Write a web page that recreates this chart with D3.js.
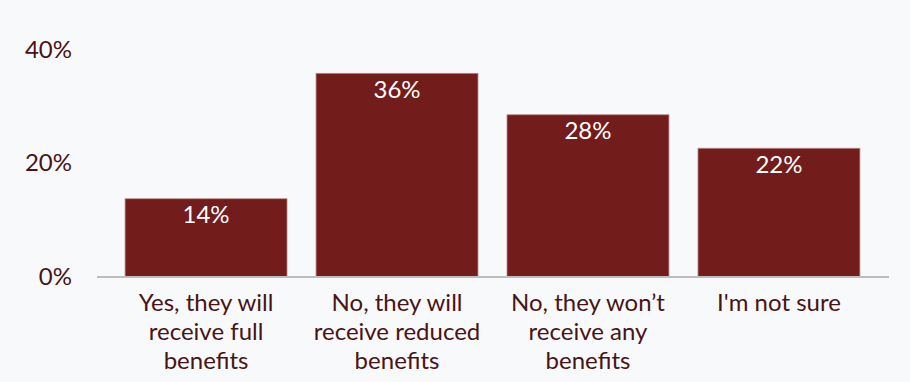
<!DOCTYPE html>
<html>
<head>
<meta charset="utf-8">
<script src="https://cdn.jsdelivr.net/npm/d3@7"></script>
<style>
  html, body { margin: 0; padding: 0; background: #f8f9fb; }
  svg { display: block; font-family: Lato, "Open Sans", sans-serif; }
</style>
</head>
<body>
<svg id="chart" width="910" height="382"></svg>
<script>
const categories = [
  "Yes, they will\nreceive full\nbenefits",
  "No, they will\nreceive reduced\nbenefits",
  "No, they won\u2019t\nreceive any\nbenefits",
  "I'm not sure"
];
const values = [13.7, 35.8, 28.5, 22.6];
const valueLabels = ["14%", "36%", "28%", "22%"];
const yTicks = [0, 20, 40];
const yTickLabels = ["0%", "20%", "40%"];

const svg = d3.select("#chart");
const W = 910, H = 382;
svg.append("rect").attr("width", W).attr("height", H).attr("fill", "#f8f9fb");

const x = d3.scaleBand()
  .domain(categories)
  .range([97, 888])
  .paddingInner(0.152)
  .paddingOuter(0.147);

const y = d3.scaleLinear().domain([0, 40]).range([276.5, 49.5]);

const textColor = "#4a1414";
const barColor = "#731c1c";

// y-axis labels
const yAxis = d3.axisLeft(y).tickValues(yTicks)
  .tickFormat((d, i) => yTickLabels[i]).tickSize(0).tickPadding(0);
const gy = svg.append("g").attr("transform", "translate(72,0)").call(yAxis);
gy.select(".domain").remove();
gy.selectAll("text")
  .attr("fill", textColor)
  .style("font-family", "Lato, sans-serif")
  .style("font-size", "24px");

// bars
svg.append("g").selectAll("rect")
  .data(values)
  .join("rect")
  .attr("x", (d, i) => x(categories[i]))
  .attr("y", d => y(d))
  .attr("width", x.bandwidth())
  .attr("height", d => y(0) - y(d))
  .attr("fill", barColor)
  .attr("stroke", "#b58a8a")
  .attr("stroke-width", 0.8);

// value labels
svg.append("g").selectAll("text")
  .data(values)
  .join("text")
  .attr("x", (d, i) => x(categories[i]) + x.bandwidth() / 2)
  .attr("y", d => y(d) + 24.5)
  .attr("text-anchor", "middle")
  .attr("fill", "#ffffff")
  .style("font-size", "24px")
  .text((d, i) => valueLabels[i]);

// x axis baseline
svg.append("line")
  .attr("x1", 97).attr("x2", 889)
  .attr("y1", y(0) + 0.5).attr("y2", y(0) + 0.5)
  .attr("stroke", "#bdbdbd")
  .attr("stroke-width", 2);

// category labels
const cat = svg.append("g").selectAll("text")
  .data(categories)
  .join("text")
  .attr("text-anchor", "middle")
  .attr("fill", textColor)
  .style("font-size", "24px")
  .attr("transform", d => `translate(${x(d) + x.bandwidth() / 2},311)`);
cat.each(function(d) {
  const t = d3.select(this);
  d.split("\n").forEach((line, i) => {
    t.append("tspan").attr("x", 0).attr("y", i * 29).text(line);
  });
});
</script>
</body>
</html>
